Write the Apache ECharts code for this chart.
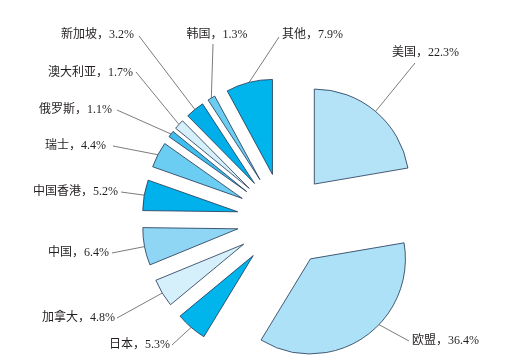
<!DOCTYPE html>
<html>
<head>
<meta charset="utf-8">
<script src="https://cdn.jsdelivr.net/npm/echarts@6/dist/echarts.min.js"></script>
<style>
  html, body { margin: 0; padding: 0; background: #fff; }
  #chart { width: 509px; height: 364px; }
</style>
</head>
<body>
<div id="chart"></div>
<script>
// Share by country / region, clockwise from 12 o'clock
const regions = ['美国', '欧盟', '日本', '加拿大', '中国', '中国香港', '瑞士', '俄罗斯', '澳大利亚', '新加坡', '韩国', '其他'];
const shares = [22.3, 36.4, 5.3, 4.8, 6.4, 5.2, 4.4, 1.1, 1.7, 3.2, 1.3, 7.9];
const sliceColors = ['#b4e3f8', '#ade1f7', '#00b4ec', '#d5effb', '#8fd6f5', '#00b1eb',
                     '#6ccdf2', '#3fbdec', '#d5effb', '#00afe9', '#6ccdf2', '#00b4ec'];

// Pie geometry
const CX = 284, CY = 220, R = 95, OFFSET = 47;

// Label anchor [x, y, align] and leader-line end point [x, y]
const labelAnchor = [
  [392, 53, 'left'], [412, 341, 'left'], [170, 345, 'right'], [115, 318, 'right'],
  [109, 253, 'right'], [118, 192, 'right'], [106, 146, 'right'], [112, 110, 'right'],
  [133, 73, 'right'], [134, 35, 'right'], [217, 35, 'center'], [282, 35, 'left']
];
const lineEnd = [
  [415, 63], [409, 341], [172, 345], [117, 318],
  [112, 253], [121, 192], [113, 146], [117, 110],
  [136, 72], [139, 36], [213, 44], [279, 37]
];
// small angular shift (degrees) of where a leader leaves its slice
const lineStartShift = [0, -12, 0, 0, 0, 0, 0, 0, 0, 0, 0, 0];

const total = shares.reduce((a, b) => a + b, 0);
const midAngles = [];
let acc = 0;
shares.forEach(v => { midAngles.push((acc + v / 2) / total * 360); acc += v; });

// point on the outer arc of an exploded slice
function edgePoint(i) {
  const a = (midAngles[i] + lineStartShift[i]) * Math.PI / 180;
  const am = midAngles[i] * Math.PI / 180;
  const ax = CX + OFFSET * Math.sin(am), ay = CY - OFFSET * Math.cos(am);
  return [ax + R * Math.sin(a), ay - R * Math.cos(a)];
}

const labelFont = '"Liberation Serif", "Noto Sans CJK SC", serif';

const chart = echarts.init(document.getElementById('chart'));
chart.setOption({
  backgroundColor: '#ffffff',
  animation: false,
  series: [
    {
      // exploded slices
      type: 'pie',
      center: [CX, CY],
      radius: [0, R],
      startAngle: 90,
      clockwise: true,
      selectedMode: 'multiple',
      selectedOffset: OFFSET,
      silent: true,
      emphasis: { disabled: true },
      itemStyle: { borderColor: '#1f3552', borderWidth: 0.8 },
      label: { show: false },
      labelLine: { show: false },
      data: regions.map((name, i) => ({
        name: name,
        value: shares[i],
        selected: true,
        itemStyle: { color: sliceColors[i] }
      }))
    },
    {
      // labels and leader lines (same data, transparent sectors)
      type: 'pie',
      center: [CX, CY],
      radius: [0, R + OFFSET],
      startAngle: 90,
      clockwise: true,
      silent: true,
      avoidLabelOverlap: false,
      emphasis: { disabled: true },
      itemStyle: { color: 'rgba(0,0,0,0)', borderWidth: 0 },
      label: {
        show: true,
        position: 'outside',
        formatter: p => p.name + '，' + p.value + '%',
        fontFamily: labelFont,
        fontSize: 12,
        color: '#231f20'
      },
      labelLine: { show: true, lineStyle: { color: '#444', width: 0.7 } },
      labelLayout: function (p) {
        const i = p.dataIndex;
        const L = labelAnchor[i];
        return {
          x: L[0], y: L[1], align: L[2], verticalAlign: 'middle',
          labelLinePoints: [edgePoint(i), lineEnd[i], lineEnd[i]]
        };
      },
      data: regions.map((name, i) => ({ name: name, value: shares[i] }))
    }
  ]
});
</script>
</body>
</html>
